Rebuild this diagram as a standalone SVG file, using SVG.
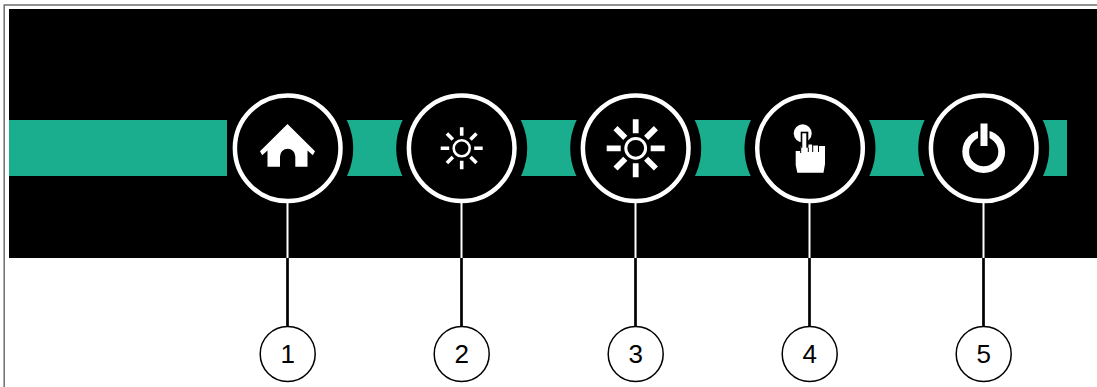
<svg xmlns="http://www.w3.org/2000/svg" width="1097" height="387" viewBox="0 0 1097 387">
<style>
.teal{fill:#1bae8e}
.halo{fill:#000}
.ring{fill:#000;stroke:#fff;stroke-width:4.5}
.wl{stroke:#fff;stroke-width:2;fill:none}
.bl{stroke:#000;stroke-width:2.700;fill:none}
.ic{fill:#fff}
.ray{stroke:#fff;fill:none}
.badge{fill:#fff;stroke:#000;stroke-width:1.500}
.num{font-family:"Liberation Sans",Arial,sans-serif;font-size:26px;fill:#000;text-anchor:middle}
</style>
<defs><circle id="h" r="65.500" class="halo"/></defs>
<rect x="0" y="0" width="1097" height="387" fill="#fff"/>
<path d="M4.200 387V5H1097" fill="none" stroke="#6e6e6e" stroke-width="1.500"/>
<rect x="9" y="9" width="1088" height="249" fill="#000"/>
<g id="band">
<rect class="teal" x="340" y="120" width="727" height="56"/>
<use href="#h" x="287.700" y="148.300"/><use href="#h" x="461.700" y="148.300"/><use href="#h" x="635.700" y="148.300"/><use href="#h" x="810" y="148.300"/><use href="#h" x="983.700" y="148.300"/>
<rect class="teal" x="9" y="120" width="218" height="56"/>
</g>
<g id="connectors">
<path class="wl" d="M287.500 203V258M461.500 203V258M635.500 203V258M809.500 203V258M983.500 203V258"/>
<path class="bl" d="M287.500 258V327M461.500 258V327M635.500 258V327M809.500 258V327M983.500 258V327"/>
</g>
<g id="node-home">
<circle class="ring" cx="287.700" cy="148.300" r="52.800"/>
<path class="ic" fill-rule="evenodd" d="M287.500 124L315 151.300L312.800 155.200L307.500 150.500V166.700H295.300V156.500A7.600 7.600 0 0 0 280 156.500V166.700H267.500V150.500L262.200 155.200L260 151.300Z"/>
</g>
<g id="node-dim">
<circle class="ring" cx="461.700" cy="148.300" r="52.800"/>
<circle cx="461.700" cy="148.300" r="8" fill="none" stroke="#fff" stroke-width="2.600"/>
<path class="ray" stroke-width="3.600" d="M461.700 127.300v8.500M461.700 160.800v8.500M440.700 148.300h8.500M474.200 148.300h8.500M446.900 133.500l6 6M470.500 157.100l6 6M446.900 163.100l6-6M470.500 139.500l6-6"/>
</g>
<g id="node-bright">
<circle class="ring" cx="635.700" cy="148.300" r="52.800"/>
<circle cx="635.700" cy="148.300" r="9.900" fill="none" stroke="#fff" stroke-width="3"/>
<path class="ray" stroke-width="5.800" d="M635.700 119.300v14M635.700 163.300v14M606.700 148.300h14M650.700 148.300h14M615.500 128.100l9.800 9.800M646.100 158.700l9.800 9.800M615.500 168.500l9.800-9.800M646.100 137.900l9.800-9.800"/>
</g>
<g id="node-touch">
<circle class="ring" cx="810" cy="148.300" r="52.800"/>
<circle class="ic" cx="802.700" cy="133.300" r="9"/>
<path class="ic" d="M795.700 151H800.700V146H808.300V144.500H812.200V146L813.200 145.500H818V146.500H819V146H825V164L823.500 172.700H797.300L795.700 165Z"/>
<rect x="800.700" y="131.700" width="7.600" height="16" fill="#000"/>
<path class="ic" d="M802.300 133.300h4v22h-4z"/>
<path d="M800.700 147.500V153M808.300 147.500V152M812.700 144.500V152M818.500 145.500V152" stroke="#000" stroke-width="1" fill="none"/>
</g>
<g id="node-power">
<circle class="ring" cx="983.700" cy="148.300" r="52.800"/>
<circle cx="983.700" cy="151.700" r="18" fill="none" stroke="#fff" stroke-width="6.800"/>
<rect x="978" y="122" width="11.500" height="25.500" fill="#000"/>
<rect class="ic" x="980.500" y="123.500" width="7" height="22.500"/>
</g>
<g id="badge-1"><circle class="badge" cx="287.700" cy="354" r="27.500"/><text class="num" x="287.700" y="363">1</text></g>
<g id="badge-2"><circle class="badge" cx="461.700" cy="354" r="27.500"/><text class="num" x="461.700" y="363">2</text></g>
<g id="badge-3"><circle class="badge" cx="635.700" cy="354" r="27.500"/><text class="num" x="635.700" y="363">3</text></g>
<g id="badge-4"><circle class="badge" cx="809.700" cy="354" r="27.500"/><text class="num" x="809.700" y="363">4</text></g>
<g id="badge-5"><circle class="badge" cx="983.700" cy="354" r="27.500"/><text class="num" x="983.700" y="363">5</text></g>
</svg>
